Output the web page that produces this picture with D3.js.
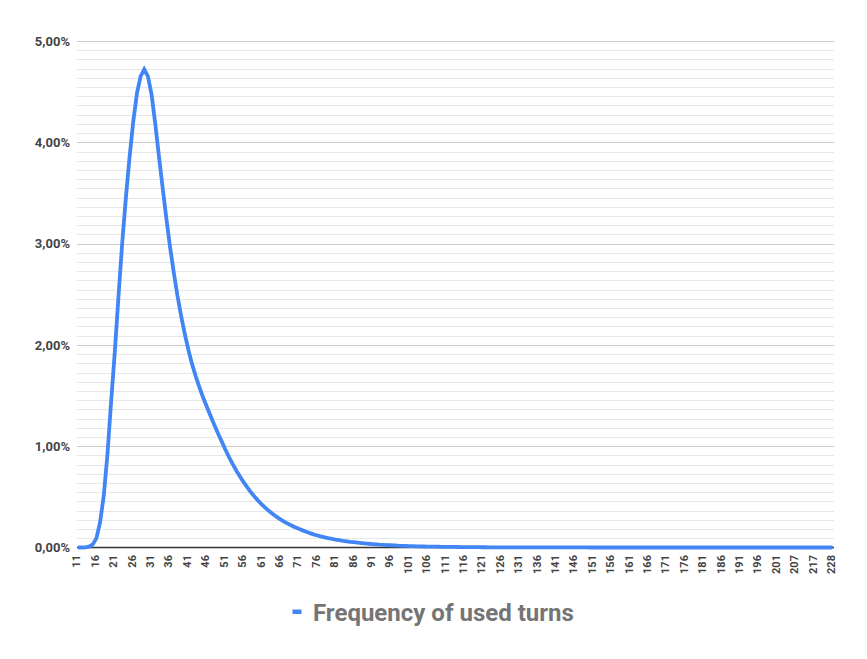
<!DOCTYPE html>
<html>
<head>
<meta charset="utf-8">
<script src="https://cdn.jsdelivr.net/npm/d3@7"></script>
<style>
  html, body { margin: 0; padding: 0; background: #ffffff; }
  svg { display: block; font-family: Roboto, "Noto Sans", sans-serif; }
</style>
</head>
<body>
<svg id="chart" width="867" height="659"></svg>
<script>
// ---- data ----
const seriesName = "Frequency of used turns";
const categories = d3.range(11, 202).concat([202, 203, 204, 205, 207, 208, 210, 212, 215, 217, 219, 221, 223, 225, 228]).map(String);
const frequency = [
  0, 0, 0.002, 0.008, 0.03, 0.09, 0.25, 0.51, 0.92, 1.44,
  1.93, 2.48, 3.00, 3.45, 3.85, 4.20, 4.48, 4.65, 4.72, 4.65,
  4.47, 4.18, 3.86, 3.55, 3.25, 2.97, 2.72, 2.49, 2.29, 2.11,
  1.95, 1.81, 1.69, 1.58, 1.48, 1.39, 1.30, 1.215, 1.13, 1.05,
  0.97, 0.895, 0.825, 0.76, 0.70, 0.645, 0.593, 0.545, 0.50, 0.46,
  0.422, 0.388, 0.357, 0.328, 0.302, 0.278, 0.256, 0.236, 0.217, 0.20,
  0.184, 0.169, 0.155, 0.142, 0.13, 0.119, 0.109, 0.10, 0.092, 0.085,
  0.078, 0.072, 0.066, 0.061, 0.056, 0.052, 0.048, 0.044, 0.040, 0.037,
  0.034, 0.031, 0.028, 0.026, 0.024, 0.022, 0.020, 0.018, 0.017, 0.016,
  0.014, 0.013, 0.012, 0.011, 0.010, 0.0095, 0.0088, 0.008, 0.0074, 0.0068,
  0.0062, 0.0057, 0.0052, 0.0048, 0.0044, 0.004, 0.0037, 0.0034, 0.0031, 0.0028,
  0.0026, 0.0024, 0.0022, 0.002, 0.0018, 0.0017, 0.0015, 0.0014, 0.0013, 0.0012,
  0.0011, 0.001, 0.0009, 0.0008, 0.0008, 0.0007, 0.0007, 0.0006, 0.0006, 0.0005,
  0.0005, 0.0005, 0.0004, 0.0004, 0.0004, 0.0003, 0.0003, 0.0003, 0.0003, 0.0002,
  0.0002, 0.0002, 0.0002, 0.0002, 0.0002, 0.0002, 0.0002, 0.0002, 0.0002, 0.0002,
  0.0002, 0.0002, 0.0001, 0.0001, 0.0001, 0.0001, 0.0001, 0.0001, 0.0001, 0.0001,
  0.0001, 0.0001, 0.0001, 0.0001, 0.0001, 0.0001, 0.0001, 0.0001, 0.0001, 0.0001,
  0.0001, 0.0001, 0.0001, 0.0001, 0.0001, 0.0001, 0.0001, 0.0001, 0.0001, 0.0001,
  0.0001, 0.0001, 0.0001, 0.0001, 0.0001, 0.0001, 0.0001, 0.0001, 0.0001, 0.0001,
  0.0001, 0.0001, 0.0001, 0.0001, 0.0001, 0.0001, 0.0001, 0.0001,
  0.0001, 0.0001, 0.0001, 0.0001, 0.0001, 0.0001, 0.0001, 0.0001
];
const yTicks = [0, 1, 2, 3, 4, 5];
const yMinorPerMajor = 10;

// ---- layout ----
const svg = d3.select("#chart");
const plotLeft = 77, plotRight = 834, plotTop = 41, plotBottom = 547.5;

const x = d3.scalePoint().domain(categories).range([78, 832.5]);
const y = d3.scaleLinear().domain([0, 5]).range([plotBottom, plotTop]);

// minor gridlines
const minorVals = [];
for (let i = 0; i < yTicks.length - 1; i++) {
  for (let k = 1; k <= yMinorPerMajor; k++) {
    minorVals.push(yTicks[i] + k * (yTicks[i + 1] - yTicks[i]) / (yMinorPerMajor + 1));
  }
}
svg.append("g").selectAll("line").data(minorVals).join("line")
  .attr("x1", plotLeft).attr("x2", plotRight)
  .attr("y1", d => Math.round(y(d)) + 0.5).attr("y2", d => Math.round(y(d)) + 0.5)
  .attr("stroke", "#e6e6e6").attr("stroke-width", 1);

// major gridlines
svg.append("g").selectAll("line").data(yTicks.filter(d => d > 0)).join("line")
  .attr("x1", plotLeft).attr("x2", plotRight)
  .attr("y1", d => Math.round(y(d)) + 0.5).attr("y2", d => Math.round(y(d)) + 0.5)
  .attr("stroke", "#cccccc").attr("stroke-width", 1);

// y axis labels
const fmt = d => d.toFixed(2).replace(".", ",") + "%";
const yAxis = d3.axisLeft(y).tickValues(yTicks).tickFormat(fmt).tickSize(0).tickPadding(0);
const gy = svg.append("g").attr("transform", `translate(${plotLeft - 7},0)`).call(yAxis);
gy.select(".domain").remove();
gy.selectAll("text")
  .attr("font-family", "Roboto, sans-serif")
  .attr("font-size", 13).attr("font-weight", "bold").attr("fill", "#444444");

// x axis
const xTickVals = categories.filter((d, i) => i % 5 === 0);
const xAxis = d3.axisBottom(x).tickValues(xTickVals).tickSize(0).tickPadding(0);
const gx = svg.append("g").attr("transform", `translate(0,${plotBottom})`).call(xAxis);
gx.select(".domain").remove();
gx.selectAll("text")
  .attr("font-family", "Roboto, sans-serif")
  .attr("font-size", 11).attr("font-weight", "bold").attr("fill", "#444444")
  .attr("text-anchor", "end")
  .attr("transform", "rotate(-90)")
  .attr("x", -7.5).attr("y", 0).attr("dy", "0.18em");

// baseline
svg.append("line")
  .attr("x1", plotLeft).attr("x2", plotRight)
  .attr("y1", plotBottom).attr("y2", plotBottom)
  .attr("stroke", "#333333").attr("stroke-width", 1.5);

// series line
const line = d3.line()
  .x((d, i) => x(categories[i]))
  .y(d => y(d));
svg.append("path")
  .datum(frequency)
  .attr("d", line)
  .attr("fill", "none")
  .attr("stroke", "#4285F4")
  .attr("stroke-width", 3.8)
  .attr("stroke-linejoin", "miter")
  .attr("stroke-linecap", "butt");

// legend
const lg = svg.append("g");
lg.append("rect").attr("x", 292.5).attr("y", 609.5).attr("width", 9).attr("height", 4.5)
  .attr("fill", "#4285F4");
lg.append("text").attr("x", 313).attr("y", 620.5)
  .attr("font-family", "Roboto, sans-serif")
  .attr("font-size", 24).attr("font-weight", "bold").attr("fill", "#757575")
  .text(seriesName);
</script>
</body>
</html>
